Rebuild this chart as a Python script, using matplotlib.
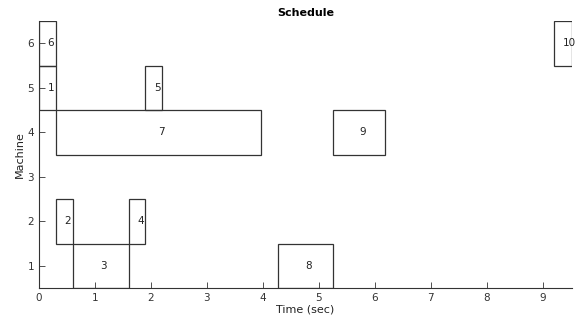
import numpy as np
import matplotlib
matplotlib.use('Agg')
import matplotlib.pyplot as plt

# task schedule: which machine runs each task, and when
tasks     = ['1', '2', '3', '4', '5', '6', '7', '8', '9', '10']
machines  = [5, 2, 1, 2, 5, 6, 4, 1, 4, 6]
starts    = [0.0, 0.3, 0.6, 1.6, 1.9, 0.0, 0.3, 4.26, 5.26, 9.2]
durations = [0.3, 0.3, 1.0, 0.3, 0.3, 0.3, 3.66, 1.0, 0.92, 0.32]

fig = plt.figure(figsize=(5.75, 3.22), dpi=100)
ax = fig.add_axes([0.0678, 0.1056, 0.927, 0.829])

ax.barh(machines, durations, left=starts, height=1.0,
        fill=False, edgecolor='#333333', linewidth=0.9)

# MATLAB-like labels: anchored at the box centre, left aligned
for t, m, s, d in zip(tasks, machines, starts, durations):
    ax.text(s + d/2.0, m, t, ha='left', va='center',
            fontsize=7.5, color='#222222', clip_on=False)

end = max(np.array(starts) + np.array(durations))
ax.set_xlim(0, end)
ax.set_ylim(0.5, 6.5)
ax.set_xticks(range(0, 10))
ax.set_yticks(range(1, 7))

for side in ['top', 'right']:
    ax.spines[side].set_visible(False)
for side in ['left', 'bottom']:
    ax.spines[side].set_color('#333333')
    ax.spines[side].set_linewidth(0.8)
ax.tick_params(direction='in', length=4, width=0.6, labelsize=7.5,
               colors='#333333', labelcolor='#333333')

ax.set_xlabel('Time (sec)', fontsize=8, color='#222222', labelpad=1)
ax.set_ylabel('Machine', fontsize=8, color='#222222', labelpad=2)
ax.set_title('Schedule', fontsize=8, fontweight='bold', pad=4)

fig.savefig('out.png', dpi=100)
